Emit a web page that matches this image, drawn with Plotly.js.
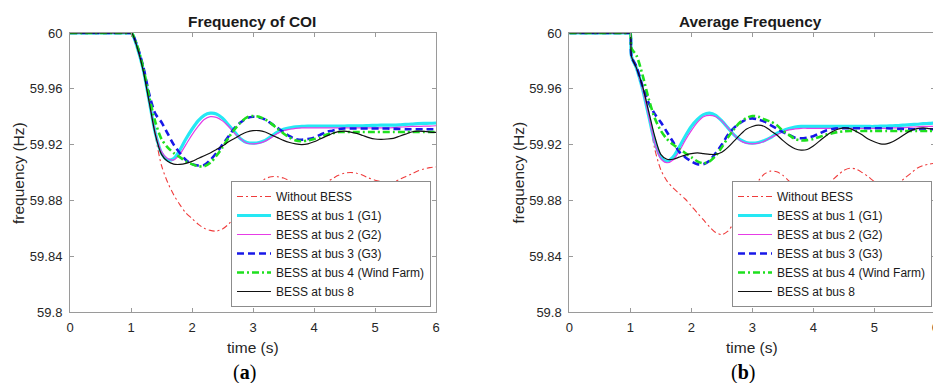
<!DOCTYPE html>
<html>
<head>
<meta charset="utf-8">
<script src="https://cdn.plot.ly/plotly-3.0.1.min.js"></script>
<style>
html,body{margin:0;padding:0;overflow:hidden;background:#fff;}
#chart{width:940px;height:383px;}
</style>
</head>
<body>
<div id="chart"></div>
<script>
// time axis (s)
const time = [0, 0.5, 0.98, 1.0, 1.02,
  1.1,1.2,1.3,1.4,1.5,1.6,1.7,1.8,1.9,2.0,
  2.1,2.2,2.3,2.4,2.5,2.6,2.7,2.8,2.9,3.0,
  3.1,3.2,3.3,3.4,3.5,3.6,3.7,3.8,3.9,4.0,
  4.1,4.2,4.3,4.4,4.5,4.6,4.7,4.8,4.9,5.0,
  5.1,5.2,5.3,5.4,5.5,5.6,5.7,5.8,5.9,6.0];

const seriesNames = ['Without BESS','BESS at bus 1 (G1)','BESS at bus 2 (G2)','BESS at bus 3 (G3)','BESS at bus 4 (Wind Farm)','BESS at bus 8'];

// (a) Frequency of COI
const coiWithout = [60,60,60,60,59.9995,
  59.990,59.974,59.952,59.926,59.905,59.893,59.884,59.877,59.871,59.867,
  59.863,59.860,59.8585,59.858,59.8595,59.863,59.868,59.875,59.882,59.888,
  59.8925,59.8955,59.897,59.897,59.896,59.894,59.892,59.8905,59.8897,59.890,
  59.891,59.893,59.8955,59.898,59.8995,59.900,59.8995,59.898,59.896,59.8945,
  59.8935,59.893,59.8935,59.895,59.897,59.899,59.901,59.9025,59.9035,59.904];
const coiBus1 = [60,60,60,60,59.9995,
  59.990,59.974,59.951,59.928,59.914,59.909,59.910,59.916,59.924,59.931,
  59.937,59.941,59.9425,59.942,59.939,59.934,59.929,59.924,59.9215,59.921,
  59.9215,59.923,59.926,59.929,59.931,59.932,59.9328,59.933,59.9333,59.9333,
  59.9333,59.9333,59.9333,59.9333,59.9333,59.9335,59.9335,59.9335,59.9337,59.9338,
  59.934,59.934,59.934,59.9342,59.9345,59.9347,59.935,59.9352,59.9353,59.9355];
const coiBus2 = [60,60,60,60,59.9995,
  59.990,59.974,59.951,59.928,59.915,59.910,59.909,59.913,59.920,59.927,
  59.933,59.938,59.940,59.9395,59.937,59.933,59.928,59.924,59.921,59.9205,
  59.921,59.9225,59.925,59.928,59.930,59.931,59.9317,59.932,59.932,59.932,
  59.932,59.932,59.932,59.932,59.932,59.932,59.932,59.932,59.932,59.932,
  59.932,59.932,59.9322,59.9325,59.9327,59.933,59.933,59.9332,59.9333,59.9335];
const coiBus3 = [60,60,60,60,59.9995,
  59.991,59.976,59.956,59.942,59.936,59.928,59.920,59.914,59.909,59.906,
  59.905,59.9055,59.909,59.914,59.920,59.926,59.932,59.936,59.939,59.940,
  59.9395,59.938,59.935,59.932,59.929,59.926,59.924,59.9235,59.924,59.925,
  59.927,59.929,59.930,59.931,59.9315,59.9315,59.9315,59.9315,59.9315,59.9315,
  59.9315,59.9315,59.9313,59.9312,59.931,59.931,59.931,59.931,59.931,59.931];
const coiBus4 = [60,60,60,60,59.9995,
  59.991,59.975,59.954,59.936,59.924,59.918,59.914,59.911,59.908,59.906,
  59.9045,59.9045,59.907,59.912,59.918,59.925,59.931,59.936,59.9395,59.9405,
  59.940,59.938,59.935,59.9315,59.928,59.925,59.923,59.9225,59.923,59.924,
  59.925,59.927,59.928,59.929,59.929,59.929,59.929,59.929,59.929,59.929,
  59.929,59.929,59.929,59.929,59.929,59.929,59.929,59.929,59.929,59.929];
const coiBus8 = [60,60,60,60,59.9995,
  59.990,59.973,59.950,59.927,59.913,59.908,59.906,59.9058,59.9065,59.908,
  59.910,59.912,59.914,59.9165,59.919,59.922,59.9245,59.927,59.929,59.930,
  59.930,59.929,59.927,59.925,59.923,59.9215,59.9205,59.920,59.9205,59.922,
  59.924,59.926,59.928,59.9293,59.9297,59.929,59.928,59.9265,59.925,59.924,
  59.9238,59.924,59.9245,59.926,59.9275,59.929,59.9297,59.9295,59.929,59.9288];

// (b) Average Frequency
const avgWithout = [60,60,60,60,59.983,
  59.976,59.962,59.942,59.917,59.902,59.894,59.889,59.885,59.881,59.876,
  59.871,59.866,59.861,59.857,59.8555,59.858,59.864,59.871,59.879,59.887,
  59.894,59.899,59.901,59.9005,59.898,59.894,59.8905,59.8875,59.886,59.8858,
  59.887,59.890,59.894,59.898,59.9015,59.903,59.9025,59.900,59.897,59.8935,
  59.891,59.890,59.8905,59.8925,59.896,59.8995,59.903,59.905,59.906,59.9067];
const avgBus1 = [60,60,60,60,59.983,
  59.975,59.960,59.941,59.922,59.911,59.908,59.911,59.918,59.926,59.933,
  59.938,59.9415,59.9425,59.941,59.937,59.932,59.927,59.9235,59.9215,59.921,
  59.9215,59.923,59.925,59.928,59.930,59.9315,59.9325,59.933,59.933,59.933,
  59.933,59.933,59.933,59.933,59.933,59.933,59.933,59.933,59.933,59.933,
  59.9332,59.9333,59.9335,59.9337,59.934,59.9343,59.9346,59.935,59.9352,59.9355];
const avgBus2 = [60,60,60,60,59.983,
  59.975,59.960,59.941,59.921,59.910,59.907,59.909,59.915,59.923,59.930,
  59.936,59.940,59.941,59.940,59.937,59.932,59.927,59.923,59.921,59.9205,
  59.921,59.9225,59.925,59.927,59.929,59.9305,59.9312,59.9317,59.9317,59.9317,
  59.9317,59.9317,59.9317,59.9317,59.9317,59.9317,59.9317,59.9317,59.9317,59.9317,
  59.9317,59.9317,59.932,59.932,59.9322,59.9325,59.9327,59.933,59.933,59.933];
const avgBus3 = [60,60,60,60,59.983,
  59.976,59.962,59.950,59.942,59.936,59.929,59.922,59.915,59.911,59.908,
  59.906,59.906,59.9085,59.914,59.920,59.927,59.932,59.9355,59.938,59.9388,
  59.938,59.9365,59.934,59.9315,59.929,59.927,59.925,59.9245,59.925,59.926,
  59.928,59.930,59.931,59.9317,59.9317,59.9317,59.9317,59.9317,59.9317,59.9317,
  59.9317,59.9317,59.9315,59.9313,59.9312,59.931,59.931,59.931,59.931,59.931];
const avgBus4 = [60,60,60,60,59.989,
  59.984,59.970,59.953,59.939,59.930,59.924,59.920,59.917,59.914,59.911,
  59.908,59.9066,59.908,59.912,59.918,59.925,59.931,59.936,59.939,59.9405,
  59.940,59.938,59.9365,59.934,59.930,59.927,59.924,59.923,59.9232,59.924,
  59.9255,59.927,59.928,59.929,59.9295,59.9297,59.9297,59.9297,59.9297,59.9297,
  59.9297,59.9297,59.9297,59.9297,59.9297,59.9297,59.9297,59.9297,59.9297,59.9297];
const avgBus8 = [60,60,60,60,59.983,
  59.975,59.962,59.944,59.926,59.913,59.9095,59.9095,59.911,59.9125,59.9135,
  59.914,59.9135,59.913,59.913,59.9145,59.918,59.9225,59.927,59.931,59.933,
  59.934,59.933,59.930,59.927,59.923,59.9195,59.917,59.916,59.9165,59.919,
  59.9225,59.926,59.929,59.931,59.932,59.9315,59.9295,59.927,59.924,59.922,
  59.9205,59.9205,59.922,59.9245,59.9275,59.930,59.9315,59.932,59.9315,59.931];

const xTicks = [0,1,2,3,4,5,6];
const yTicks = [59.8,59.84,59.88,59.92,59.96,60];
const yTickText = ['59.8','59.84','59.88','59.92','59.96','60'];

const styles = [
  {color:'#ef3c3c', width:1.1, dash:'6px,3px,2px,3px'},
  {color:'#25e8f4', width:3.2, dash:'solid'},
  {color:'#e63ce6', width:1.2, dash:'solid'},
  {color:'#1818e8', width:2.6, dash:'7px,4px'},
  {color:'#1ee01e', width:2.6, dash:'7px,3px,2px,3px'},
  {color:'#111111', width:1.2, dash:'solid'}
];

const W = 940, H = 383;
const coiSets = [coiWithout, coiBus1, coiBus2, coiBus3, coiBus4, coiBus8];
const avgSets = [avgWithout, avgBus1, avgBus2, avgBus3, avgBus4, avgBus8];

const traces = [];
coiSets.forEach((ys, i) => traces.push({
  x: time, y: ys, name: seriesNames[i], type: 'scatter', mode: 'lines',
  xaxis: 'x', yaxis: 'y', legend: 'legend', legendgroup: 'a' + i,
  line: {color: styles[i].color, width: styles[i].width, dash: styles[i].dash, shape: 'spline', smoothing: 0.8}
}));
avgSets.forEach((ys, i) => traces.push({
  x: time, y: ys, name: seriesNames[i], type: 'scatter', mode: 'lines',
  xaxis: 'x2', yaxis: 'y2', legend: 'legend2', legendgroup: 'b' + i,
  line: {color: styles[i].color, width: styles[i].width, dash: styles[i].dash, shape: 'spline', smoothing: 0.8}
}));

const font = {family: '"Liberation Sans", Arial, sans-serif', size: 13, color: '#262626'};
const yDom = [(H-312)/H, (H-33)/H];
function xAx(dom, anchor) {
  return {domain: dom, range: [0,6], tickvals: xTicks, ticks: 'inside', ticklen: 4, tickcolor: '#9a9a9a',
    showline: true, linecolor: '#9a9a9a', linewidth: 1, mirror: 'ticks', showgrid: false, zeroline: false,
    anchor: anchor, fixedrange: true, ticklabelstandoff: 3, tickfont: {size: 13}};
}
function yAx(anchor) {
  return {domain: yDom, range: [59.8,60], tickvals: yTicks, ticktext: yTickText, ticks: 'inside', ticklen: 4,
    tickcolor: '#9a9a9a', showline: true, linecolor: '#9a9a9a', linewidth: 1, mirror: 'ticks',
    showgrid: false, zeroline: false, anchor: anchor, fixedrange: true, ticklabelstandoff: 4, tickfont: {size: 13}};
}
const legendBase = {bgcolor: '#ffffff', bordercolor: '#8c8c8c', borderwidth: 1,
  font: {family: '"Liberation Sans", Arial, sans-serif', size: 12, color: '#1a1a1a'},
  xanchor: 'right', yanchor: 'bottom', tracegroupgap: 0, itemwidth: 34};

function px(x){return x/W;}
function py(y){return (H-y)/H;}

const serif = '"Liberation Serif", "DejaVu Serif", serif';
const layout = {
  width: W, height: H,
  margin: {l:0, r:0, t:0, b:0},
  paper_bgcolor: '#ffffff', plot_bgcolor: '#ffffff',
  font: font,
  showlegend: true,
  xaxis: xAx([70/W, 436/W], 'y'),
  yaxis: yAx('x'),
  xaxis2: xAx([569.3/W, 935.3/W], 'y2'),
  yaxis2: yAx('x2'),
  legend: Object.assign({}, legendBase, {x: px(431), y: py(307)}),
  legend2: Object.assign({}, legendBase, {x: px(932), y: py(307)}),
  annotations: [
    {text: '<b>Frequency of COI</b>', x: px(252), y: py(22), xref: 'paper', yref: 'paper', showarrow: false, xanchor: 'center', yanchor: 'middle', font: {size: 15.4, color: '#1a1a1a'}},
    {text: '<b>Average Frequency</b>', x: px(750), y: py(22), xref: 'paper', yref: 'paper', showarrow: false, xanchor: 'center', yanchor: 'middle', font: {size: 15.4, color: '#1a1a1a'}},
    {text: 'time (s)', x: px(253), y: py(347), xref: 'paper', yref: 'paper', showarrow: false, xanchor: 'center', yanchor: 'middle', font: {size: 15.5}},
    {text: 'time (s)', x: px(752), y: py(347), xref: 'paper', yref: 'paper', showarrow: false, xanchor: 'center', yanchor: 'middle', font: {size: 15.5}},
    {text: 'frequency (Hz)', x: px(18), y: py(173), xref: 'paper', yref: 'paper', showarrow: false, textangle: -90, xanchor: 'center', yanchor: 'middle', font: {size: 15.5}},
    {text: 'frequency (Hz)', x: px(517.5), y: py(173), xref: 'paper', yref: 'paper', showarrow: false, textangle: -90, xanchor: 'center', yanchor: 'middle', font: {size: 15.5}},
    {text: '(<b>a</b>)', x: px(244), y: py(372), xref: 'paper', yref: 'paper', showarrow: false, xanchor: 'center', yanchor: 'middle', font: {family: serif, size: 20, color: '#000'}},
    {text: '(<b>b</b>)', x: px(743), y: py(372), xref: 'paper', yref: 'paper', showarrow: false, xanchor: 'center', yanchor: 'middle', font: {family: serif, size: 20, color: '#000'}}
  ]
};

Plotly.newPlot('chart', traces, layout, {displayModeBar: false, staticPlot: true});
</script>
</body>
</html>
